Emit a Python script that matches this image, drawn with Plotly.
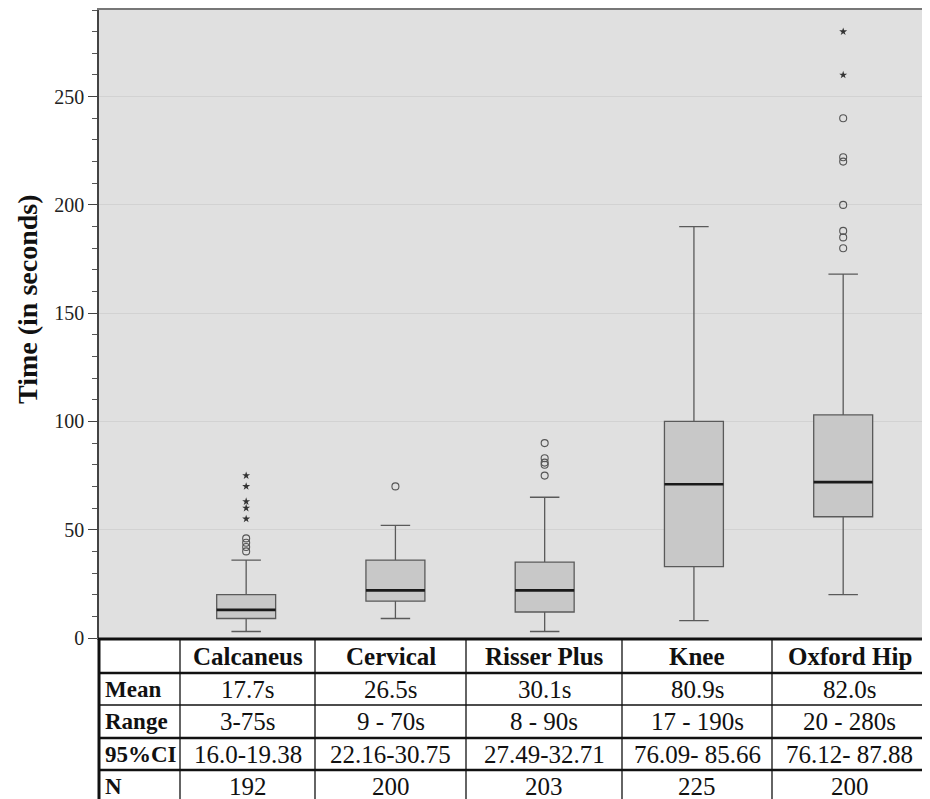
import plotly.graph_objects as go

# ---------------- data ----------------
categories = ["Calcaneus", "Cervical", "Risser Plus", "Knee", "Oxford Hip"]
lower_whisker = [3, 9, 3, 8, 20]
q1 = [9, 17, 12, 33, 56]
median = [13, 22, 22, 71, 72]
q3 = [20, 36, 35, 100, 103]
upper_whisker = [36, 52, 65, 190, 168]

calcaneus_circles = [40, 42, 44, 46]
calcaneus_stars = [55, 60, 63, 70, 75]
cervical_circles = [70]
risser_circles = [75, 80, 81, 83, 90]
hip_circles = [180, 185, 188, 200, 220, 222, 240]
hip_stars = [260, 280]

row_labels = ["Mean", "Range", "95%CI", "N"]
mean_text = ["17.7s", "26.5s", "30.1s", "80.9s", "82.0s"]
range_text = ["3-75s", "9 - 70s", "8 - 90s", "17 - 190s", "20 - 280s"]
ci_text = ["16.0-19.38", "22.16-30.75", "27.49-32.71", "76.09- 85.66", "76.12- 87.88"]
n_text = ["192", "200", "203", "225", "200"]

y_ticks = [0, 50, 100, 150, 200, 250]

# ---------------- style / layout constants ----------------
OFF = 8                      # default body margin of the html page
SCREEN_W, SCREEN_H = 930, 799
PLOT_L, PLOT_R, PLOT_T, PLOT_B = 99, 929, 10, 638   # plot area in screen pixels
W, H = SCREEN_W - OFF, SCREEN_H - OFF
ML = PLOT_L - OFF
MT = PLOT_T - OFF
MR = W - (PLOT_R - OFF)
MB = H - (PLOT_B - OFF)
PW = PLOT_R - PLOT_L
PH = PLOT_B - PLOT_T
SERIF = "Liberation Serif, Times New Roman, serif"
BOX_W = 0.395


def px(x):
    return (x - PLOT_L) / PW


def py(y):
    return (PLOT_B - y) / PH


fig = go.Figure()

fig.add_trace(go.Box(
    x=categories, q1=q1, median=median, q3=q3,
    lowerfence=lower_whisker, upperfence=upper_whisker,
    boxpoints=False, width=BOX_W, whiskerwidth=0.5,
    fillcolor="#c8c8c8", line=dict(color="#5a5a5a", width=1.3),
    showlegend=False, hoverinfo="skip",
))

circle_style = dict(symbol="circle-open", size=7, color="#555555", line=dict(width=1.1))
star_style = dict(symbol="star", size=6, color="#333333", line=dict(width=0))

for cat, vals, style in [
    ("Calcaneus", calcaneus_circles, circle_style),
    ("Calcaneus", calcaneus_stars, star_style),
    ("Cervical", cervical_circles, circle_style),
    ("Risser Plus", risser_circles, circle_style),
    ("Oxford Hip", hip_circles, circle_style),
    ("Oxford Hip", hip_stars, star_style),
]:
    fig.add_trace(go.Scatter(
        x=[cat] * len(vals), y=vals, mode="markers", marker=style,
        showlegend=False, hoverinfo="skip",
    ))

shapes = []
# thick dark median lines
for i, m in enumerate(median):
    shapes.append(dict(type="line", xref="x", yref="y",
                       x0=i - BOX_W / 2, x1=i + BOX_W / 2, y0=m, y1=m,
                       line=dict(color="#1a1a1a", width=2.6)))

# ---------------- table below the plot ----------------
col_edges = [99, 180, 315, 466, 622, 772, 927]
row_edges = [639, 673, 705, 738, 770, 803]
h_widths = [3, 2.5, 1.3, 2.5, 2.5, 2.5]
v_widths = [3, 1.3, 1.3, 1.3, 1.3, 1.3, 3]

for yv, lw in zip(row_edges, h_widths):
    shapes.append(dict(type="line", xref="paper", yref="paper",
                       x0=px(col_edges[0] - 1), x1=px(col_edges[-1] + 1),
                       y0=py(yv), y1=py(yv),
                       line=dict(color="#111111", width=lw)))
for xv, lw in zip(col_edges, v_widths):
    shapes.append(dict(type="line", xref="paper", yref="paper",
                       x0=px(xv), x1=px(xv), y0=py(row_edges[0]), y1=py(row_edges[-1]),
                       line=dict(color="#111111", width=lw)))

annotations = []
# y-axis title
annotations.append(dict(xref="paper", yref="paper", x=px(28), y=py(299),
                        text="<b>Time (in seconds)</b>", showarrow=False, textangle=-90,
                        xanchor="center", yanchor="middle",
                        font=dict(family=SERIF, size=28, color="#111111")))
# header row
for j, cat in enumerate(categories):
    cx = (col_edges[j + 1] + col_edges[j + 2]) / 2
    cy = (row_edges[0] + row_edges[1]) / 2
    annotations.append(dict(xref="paper", yref="paper", x=px(cx), y=py(cy),
                            text="<b>%s</b>" % cat, showarrow=False,
                            xanchor="center", yanchor="middle",
                            font=dict(family=SERIF, size=25, color="#111111")))
rows = [mean_text, range_text, ci_text, n_text]
for r, (lab, vals) in enumerate(zip(row_labels, rows)):
    cy = (row_edges[r + 1] + row_edges[r + 2]) / 2
    annotations.append(dict(xref="paper", yref="paper", x=px(col_edges[0] + 4), y=py(cy),
                            text="<b>%s</b>" % lab, showarrow=False,
                            xanchor="left", yanchor="middle",
                            font=dict(family=SERIF, size=23, color="#111111")))
    for j, v in enumerate(vals):
        cx = (col_edges[j + 1] + col_edges[j + 2]) / 2
        annotations.append(dict(xref="paper", yref="paper", x=px(cx), y=py(cy),
                                text=v, showarrow=False,
                                xanchor="center", yanchor="middle",
                                font=dict(family=SERIF, size=25, color="#111111")))

fig.update_layout(
    width=W, height=H,
    margin=dict(l=ML, r=MR, t=MT, b=MB, pad=0),
    paper_bgcolor="white",
    plot_bgcolor="#e0e0e0",
    shapes=shapes,
    annotations=annotations,
    xaxis=dict(
        type="category", categoryorder="array", categoryarray=categories,
        range=[-0.986, 4.575], showticklabels=False, ticks="",
        showgrid=False, zeroline=False,
        showline=True, mirror=True, linecolor="#777777", linewidth=1.5,
    ),
    yaxis=dict(
        range=[0, 290], tickvals=y_ticks, ticktext=[str(v) for v in y_ticks],
        ticks="outside", ticklen=9, tickwidth=1.2, tickcolor="#444444",
        minor=dict(dtick=10, ticks="outside", ticklen=5, tickwidth=1, tickcolor="#555555", showgrid=False),
        showgrid=True, gridcolor="#d2d2d2", gridwidth=1,
        zeroline=False, showline=True, linecolor="#444444", linewidth=1.5,
        tickfont=dict(family=SERIF, size=20, color="#222222"),
        title=dict(text=""),
    ),
)

fig.write_html("out.html")
